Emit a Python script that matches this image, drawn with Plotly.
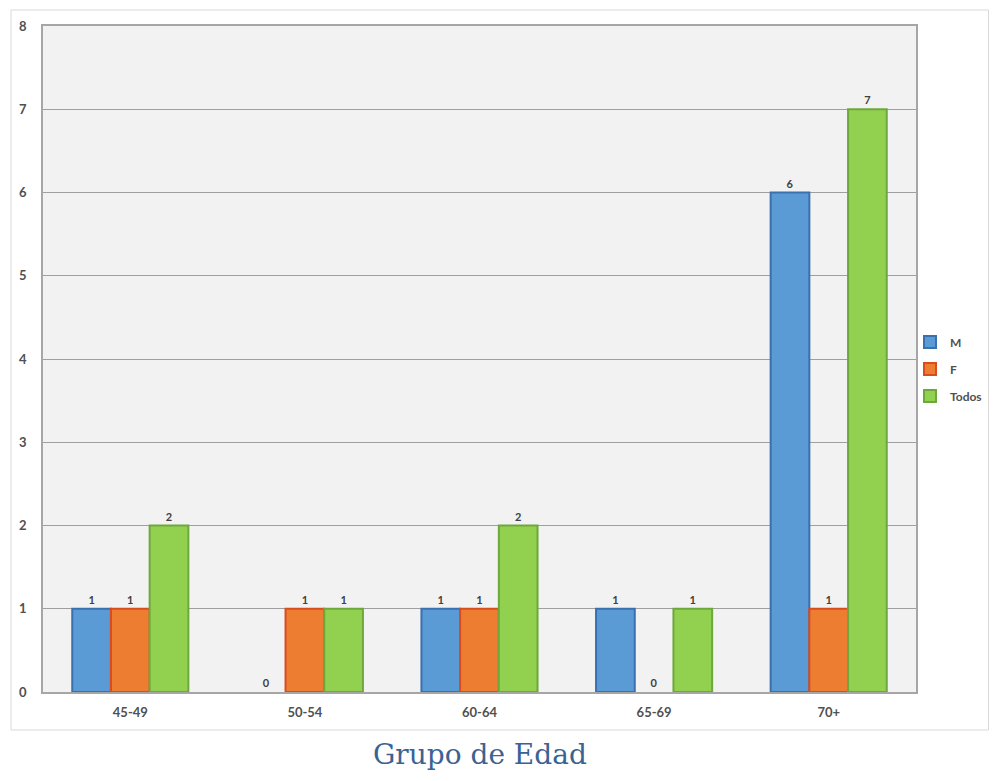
import plotly.graph_objects as go

categories = ["45-49", "50-54", "60-64", "65-69", "70+"]
m_values = [1, 0, 1, 1, 6]
f_values = [1, 1, 1, 0, 1]
todos_values = [2, 1, 2, 1, 7]
y_ticks = [0, 1, 2, 3, 4, 5, 6, 7, 8]

series = [
    ("M", m_values, "#5B9BD5", "#3A6FB0"),
    ("F", f_values, "#ED7D31", "#D94C1E"),
    ("Todos", todos_values, "#92D050", "#6EA83C"),
]

fig = go.Figure()
for name, vals, col, line in series:
    fig.add_trace(go.Bar(
        x=categories, y=vals, name=name, legendgroup=name,
        marker=dict(color=col, line=dict(color=line, width=[2 if v else 0 for v in vals])),
        text=[str(v) for v in vals], textposition="outside",
        textfont=dict(family="Lato", size=11, color="#404040", weight="bold"),
        cliponaxis=False,
    ))

# page has an 8px body margin; figure sized to fit the 997x781 window
OFF = 8
W, H = 981, 765
L, R, T, B = 43 - OFF, W - (916 - OFF), 26 - OFF, H - (692 - OFF)
pw, ph = W - L - R, H - T - B

def px(x):
    return (x - OFF - L) / pw

def py(y):
    return (H - B - (y - OFF)) / ph

fig.update_layout(
    width=W, height=H,
    margin=dict(l=L, r=R, t=T, b=B, autoexpand=False),
    paper_bgcolor="white",
    plot_bgcolor="#F2F2F2",
    barmode="group",
    bargap=0.335,
    bargroupgap=0,
    showlegend=True,
    legend=dict(
        xref="container", yref="container",
        x=(910 - OFF) / W, y=1 - (369 - OFF) / H, xanchor="left", yanchor="middle",
        font=dict(family="Lato", size=12, color="#505050", weight="bold"),
        tracegroupgap=8, itemwidth=30, bgcolor="rgba(0,0,0,0)",
    ),
    font=dict(family="Lato", color="#505050"),
    shapes=[dict(
        type="rect", xref="paper", yref="paper",
        x0=px(11), x1=px(988.5), y0=py(730), y1=py(10),
        line=dict(color="#D9D9D9", width=1), layer="below",
    )],
    annotations=[dict(
        text="Grupo de Edad", xref="paper", yref="paper",
        x=px(480), y=py(754), xanchor="center", yanchor="middle",
        showarrow=False,
        font=dict(family="DejaVu Serif", size=28, color="#3A6393"),
    )],
)

fig.update_xaxes(
    showline=True, mirror=True, linecolor="#A6A6A6", linewidth=1.5,
    tickfont=dict(family="Lato", size=13, color="#505050", weight="bold"),
    ticks="", ticklabelstandoff=8,
)
fig.update_yaxes(
    range=[0, 8], tickvals=y_ticks,
    showline=True, mirror=True, linecolor="#A6A6A6", linewidth=1.5,
    gridcolor="#9F9F9F", gridwidth=1, zeroline=False,
    tickfont=dict(family="Lato", size=13, color="#505050", weight="bold"),
    ticks="", ticklabelstandoff=12,
)

fig.write_html("out.html")
